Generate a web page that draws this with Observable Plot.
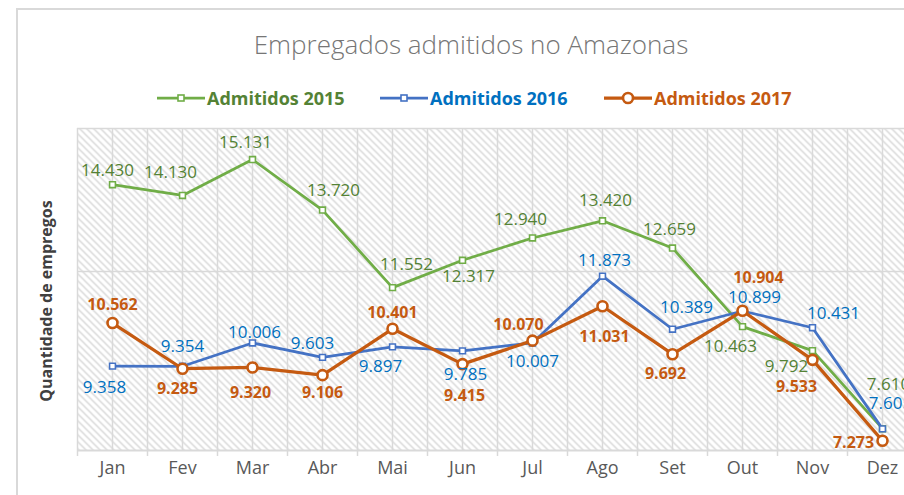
<!DOCTYPE html>
<html>
<head>
<meta charset="utf-8">
<script src="https://cdn.jsdelivr.net/npm/d3@7"></script>
<script src="https://cdn.jsdelivr.net/npm/@observablehq/plot@0.6"></script>
<style>
  html, body { margin: 0; padding: 0; background: #fff; overflow: hidden; }
  body { font-family: "Open Sans", sans-serif; }
  #wrap { position: relative; width: 904px; height: 495px; overflow: hidden; }
  #frame { position: absolute; left: 16px; top: 8px; width: 1000px; height: 1000px;
           border: 2px solid #d9d9d9; box-sizing: border-box; }
  #title { position: absolute; left: 0; width: 942px; top: 26px; text-align: center;
           font-size: 26px; font-weight: 300; color: #767676; line-height: 36px; white-space: nowrap; }
  .lg { position: absolute; top: 86px; height: 24px; display: flex; align-items: center; white-space: nowrap;
        font-size: 18px; font-weight: bold; }
  .lg svg { margin-right: 2px; }
  #ytitle { position: absolute; left: 46px; top: 301px; transform: translate(-50%, -50%) rotate(-90deg);
            font-size: 16px; font-weight: bold; color: #404040; white-space: nowrap; }
  #chart { position: absolute; left: 0; top: 0; }
</style>
</head>
<body>
<div id="wrap">
  <div id="frame"></div>
  <div id="chart"></div>
  <div id="title"></div>
  <div id="ytitle"></div>
</div>
<script>
// ---- data ----
const chartTitle = "Empregados admitidos no Amazonas";
const yTitle = "Quantidade de empregos";
const months = ["Jan","Fev","Mar","Abr","Mai","Jun","Jul","Ago","Set","Out","Nov","Dez"];
const seriesNames = ["Admitidos 2015","Admitidos 2016","Admitidos 2017"];
const adm2015 = [14430,14130,15131,13720,11552,12317,12940,13420,12659,10463,9792,7610];
const adm2016 = [9358,9354,10006,9603,9897,9785,10007,11873,10389,10899,10431,7605];
const adm2017 = [10562,9285,9320,9106,10401,9415,10070,11031,9692,10904,9533,7273];
const yGrid = [12000,16000];
const yDomain = [7000,16000];

// ---- styling ----
const lineColors = ["#70ad47","#4472c4","#c55a11"];
const textColors = ["#548235","#0070c0","#c55a11"];
// data-label offsets (px) from each point, as placed in the original chart
const lab2015 = [[-5,-14],[-12,-23],[-7,-17],[11,-20],[14,-23],[6,16],[-12,-18],[3,-20],[-3,-18],[-12,20],[-26,16],[6,-44]];
const lab2016 = [[-8,21],[0,-20],[2,-10],[-10,-14],[-12,20],[3,24],[0,19],[2,-16],[14,-22],[12,-13],[21,-14],[8,-25]];
const lab2017 = [[0,-18],[-5,20],[-2,25],[0,18],[0,-16],[2,32],[-14,-16],[2,31],[-7,20],[16,-33],[-16,27],[-29,2]];
const labOffsets = [lab2015, lab2016, lab2017];

const fmt = d3.formatLocale({decimal: ",", thousands: ".", grouping: [3], currency: ["R$", ""]}).format(",d");

const rows = [];
[adm2015, adm2016, adm2017].forEach((arr, s) =>
  arr.forEach((v, i) => rows.push({s, i, month: months[i], value: v, off: labOffsets[s][i]})));

const marks = [
  Plot.frame({fill: "url(#hatch)"}),
  Plot.ruleX(d3.range(-0.5, 11.51, 0.5), {stroke: "#d9d9d9", strokeWidth: 1.5}),
  Plot.ruleY(yGrid, {stroke: "#d9d9d9", strokeWidth: 1.5}),
  Plot.ruleY([yDomain[0]], {stroke: "#d9d9d9", strokeWidth: 2}),
  Plot.ruleX(d3.range(-0.5, 11.51, 1), {y1: yDomain[0], y2: yDomain[0], insetBottom: -6, stroke: "#d9d9d9", strokeWidth: 1.5}),
  Plot.text(months, {x: (d, i) => i, frameAnchor: "bottom", dy: 23, fontSize: 18, fill: "#595959", fontFamily: "Open Sans"})
];

[0, 1, 2].forEach(s => {
  const data = rows.filter(r => r.s === s);
  marks.push(Plot.line(data, {x: "i", y: "value", stroke: lineColors[s], strokeWidth: s === 2 ? 3.25 : 2.75}));
  if (s < 2) {
    marks.push(Plot.dot(data, {x: "i", y: "value", symbol: "square", r: 3.3, fill: "white", stroke: lineColors[s], strokeWidth: 1.6}));
  } else {
    marks.push(Plot.dot(data, {x: "i", y: "value", r: 5, fill: "white", stroke: lineColors[s], strokeWidth: 2.6}));
  }
});

rows.forEach(r => {
  marks.push(Plot.text([r], {
    x: "i", y: "value", text: d => fmt(d.value),
    dx: r.off[0], dy: r.off[1],
    fill: textColors[r.s],
    fontWeight: r.s === 2 ? "bold" : "normal",
    fontSize: r.s === 2 ? 16 : 17,
    fontFamily: "Open Sans"
  }));
});

const plot = Plot.plot({
  width: 904,
  height: 495,
  marginLeft: 77,
  marginRight: 0,
  marginTop: 128,
  marginBottom: 45,
  style: {background: "transparent", fontFamily: "Open Sans"},
  x: {type: "linear", domain: [-0.5, 11.5], range: [77, 917], axis: null},
  y: {domain: yDomain, axis: null},
  marks
});

const defs = d3.select(plot).insert("defs", ":first-child");
const pat = defs.append("pattern").attr("id", "hatch").attr("patternUnits", "userSpaceOnUse")
  .attr("width", 7).attr("height", 7);
pat.append("rect").attr("width", 7).attr("height", 7).attr("fill", "white");
pat.append("path").attr("d", "M-2,-2L9,9M-2,5L2,9M5,-2L9,2")
  .attr("stroke", "#d4d4d4").attr("stroke-width", 1.3).attr("fill", "none");

document.getElementById("chart").appendChild(plot);
document.getElementById("title").textContent = chartTitle;
document.getElementById("ytitle").textContent = yTitle;

// legend
const legendLefts = [157, 380, 604];
const wrap = document.getElementById("wrap");
seriesNames.forEach((name, s) => {
  const div = document.createElement("div");
  div.className = "lg";
  div.style.left = legendLefts[s] + "px";
  div.style.color = textColors[s];
  const sym = s < 2
    ? `<rect x="21" y="9" width="6" height="6" fill="white" stroke="${lineColors[s]}" stroke-width="1.6"/>`
    : `<circle cx="24" cy="12" r="5" fill="white" stroke="${lineColors[s]}" stroke-width="2.6"/>`;
  div.innerHTML = `<svg width="48" height="24"><line x1="0" x2="48" y1="12" y2="12" stroke="${lineColors[s]}" stroke-width="${s === 2 ? 3.25 : 2.75}"/>${sym}</svg><span></span>`;
  div.querySelector("span").textContent = name;
  wrap.appendChild(div);
});
</script>
</body>
</html>
